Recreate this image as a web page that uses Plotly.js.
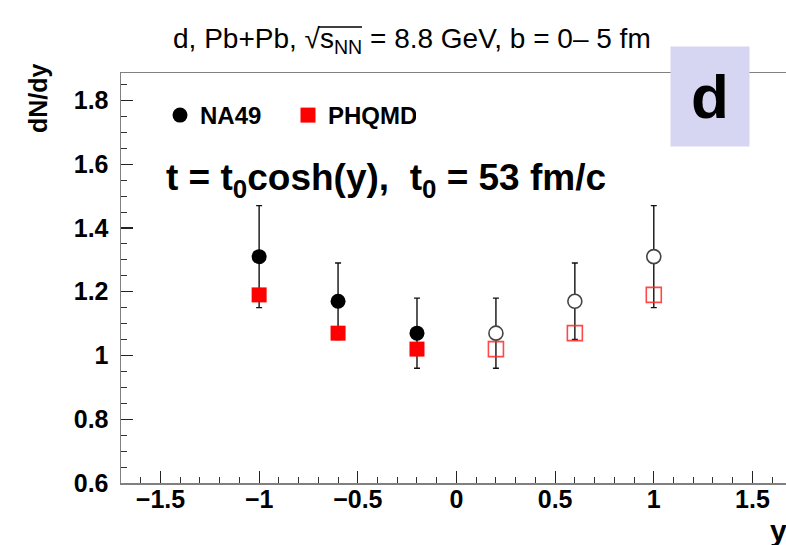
<!DOCTYPE html>
<html>
<head>
<meta charset="utf-8">
<script src="https://cdn.plot.ly/plotly-3.0.1.min.js"></script>
<style>html,body{margin:0;padding:0;background:#fff;}#chart{width:786px;height:545px;}</style>
</head>
<body>
<div id="chart"></div>
<script>
// Data
const yNeg = [-1.0, -0.6, -0.2];          // measured rapidities
const yPos = [0.2, 0.6, 1.0];             // reflected rapidities
const na49Neg = [1.31, 1.17, 1.07];
const na49Err = [0.16, 0.12, 0.11];
const na49Pos = [1.07, 1.17, 1.31];
const na49ErrPos = [0.11, 0.12, 0.16];
const phqmdNeg = [1.19, 1.07, 1.02];
const phqmdPos = [1.02, 1.07, 1.19];
const xTickVals = [-1.5, -1, -0.5, 0, 0.5, 1, 1.5];
const yTickVals = [0.6, 0.8, 1.0, 1.2, 1.4, 1.6, 1.8];

const FONT = 'Liberation Sans, Arial, Helvetica, sans-serif';
const errStyle = {type: 'data', visible: true, color: '#111', thickness: 1.4, width: 3};

// plot-area helpers (pixel -> paper)
const L = 121, T = 73, W = 665, H = 410;
const px = v => (v - L) / W;
const py = v => 1 - (v - T) / H;

const traces = [
  {x: yNeg, y: na49Neg, type: 'scatter', mode: 'markers', name: 'NA49',
   error_y: Object.assign({array: na49Err}, errStyle),
   marker: {symbol: 'circle', size: 15, color: '#000'}},
  {x: yPos, y: na49Pos, type: 'scatter', mode: 'markers', name: 'NA49 refl', showlegend: false,
   error_y: Object.assign({array: na49ErrPos}, errStyle),
   marker: {symbol: 'circle', size: 14, color: '#fff', line: {color: '#444', width: 1.6}}},
  {x: yNeg, y: phqmdNeg, type: 'scatter', mode: 'markers', name: 'PHQMD',
   marker: {symbol: 'square', size: 15, color: '#ff0000'}},
  {x: yPos, y: phqmdPos, type: 'scatter', mode: 'markers', name: 'PHQMD refl', showlegend: false,
   marker: {symbol: 'square-open', size: 15, color: 'rgba(255,40,40,0.85)', line: {width: 1.6}}}
];

const layout = {
  width: 786, height: 545,
  margin: {l: L, r: 0, t: T, b: 545 - T - H, autoexpand: false},
  paper_bgcolor: '#fff', plot_bgcolor: '#fff',
  font: {family: FONT, color: '#000'},
  title: {text: 'd, Pb+Pb, \u221As<sub>NN</sub> = 8.8 GeV, b = 0\u2013 5 fm', automargin: false,
          font: {family: FONT, size: 28, color: '#000'},
          x: 0.524, xanchor: 'center', xref: 'container', y: 1 - 38/545, yanchor: 'middle', yref: 'container'},
  showlegend: true,
  legend: {orientation: 'h', xref: 'container', yref: 'container', x: 160/786, y: 1 - 93/545,
           xanchor: 'left', yanchor: 'top', bgcolor: 'rgba(0,0,0,0)',
           font: {family: FONT, size: 24, color: '#000', weight: 'bold'},
           entrywidth: 83, entrywidthmode: 'pixels', itemclick: false},
  xaxis: {range: [-1.7, 1.67], tickvals: xTickVals, ticks: 'inside', ticklen: 12, tickwidth: 1.2, tickcolor: '#222',
          minor: {dtick: 0.1, tick0: 0, ticks: 'inside', ticklen: 6, tickcolor: '#333', tickwidth: 1, showgrid: false},
          showline: true, linecolor: '#808080', linewidth: 1.5, mirror: true, showgrid: false, zeroline: false,
          tickfont: {family: FONT, size: 25, weight: 'bold', color: '#000'}, ticklabelstandoff: -7},
  yaxis: {range: [0.6, 1.886], tickvals: yTickVals, ticks: 'inside', ticklen: 12, tickwidth: 1.2, tickcolor: '#222',
          minor: {dtick: 0.05, tick0: 0, ticks: 'inside', ticklen: 6, tickcolor: '#333', tickwidth: 1, showgrid: false},
          showline: true, linecolor: '#808080', linewidth: 1.5, mirror: false, showgrid: false, zeroline: false,
          tickfont: {family: FONT, size: 25, weight: 'bold', color: '#000'}, ticklabelstandoff: 6},
  shapes: [
    {type: 'line', xref: 'paper', yref: 'paper', x0: px(318), x1: px(362), y0: py(27), y1: py(27),
     line: {color: '#000', width: 1.3}}
  ],
  annotations: [
    {text: '<b>dN/dy</b>', xref: 'paper', yref: 'paper', x: px(38), y: py(98),
     xanchor: 'center', yanchor: 'middle', textangle: -90, showarrow: false,
     font: {family: FONT, size: 25, color: '#000'}},
    {text: '<b>y</b>', xref: 'paper', yref: 'paper', x: px(778), y: py(530),
     xanchor: 'center', yanchor: 'middle', showarrow: false,
     font: {family: FONT, size: 30, color: '#000'}},
    {text: '<b>t = t<sub>0</sub>cosh(y),\u00a0 t<sub>0</sub> = 53 fm/c</b>', xref: 'paper', yref: 'paper',
     x: px(164), y: py(180), xanchor: 'left', yanchor: 'middle', showarrow: false,
     font: {family: FONT, size: 37, color: '#000'}},
    {text: '<b>d</b>', xref: 'paper', yref: 'paper', x: px(710), y: py(96),
     xanchor: 'center', yanchor: 'middle', showarrow: false, width: 76, height: 97,
     bgcolor: '#d6d6f3', font: {family: FONT, size: 62, color: '#000'}}
  ]
};

Plotly.newPlot('chart', traces, layout, {staticPlot: true, displayModeBar: false});
</script>
</body>
</html>
